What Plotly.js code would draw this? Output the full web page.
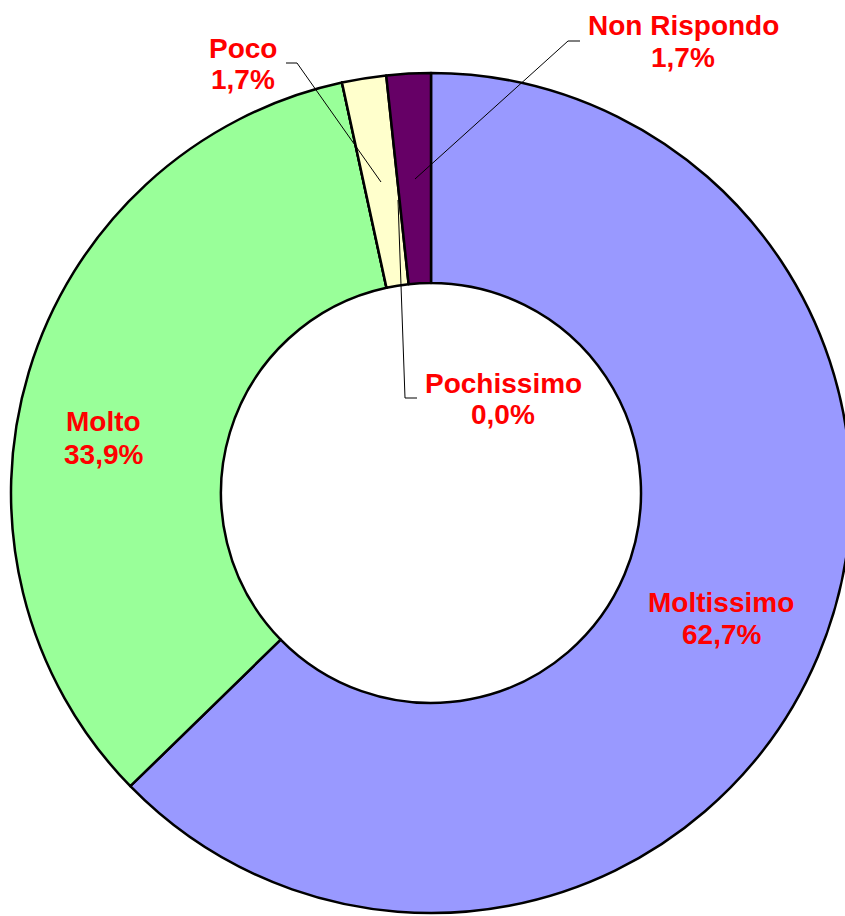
<!DOCTYPE html>
<html>
<head>
<meta charset="utf-8">
<script src="https://cdn.plot.ly/plotly-3.0.1.min.js"></script>
<style>
html, body { margin: 0; padding: 0; overflow: hidden; background: #ffffff; }
#chart { width: 900px; height: 916px; }
</style>
</head>
<body>
<div id="chart"></div>
<script>
// Data
const categories = ["Moltissimo", "Molto", "Pochissimo", "Poco", "Non Rispondo"];
const percentages = [62.7, 33.9, 0.0, 1.7, 1.7];
const percentLabels = ["62,7%", "33,9%", "0,0%", "1,7%", "1,7%"];
const sliceColors = ["#9999FF", "#99FF99", "#FFCC99", "#FFFFCC", "#660066"];

// Layout geometry (pixels)
const W = 900, H = 916;
const px = x => x / W;
const py = y => 1 - y / H;

// Label placement (pixel centres, baselines of the two lines)
const labelPos = {
  "Moltissimo":   {x: 721, b1: 612, b2: 644},
  "Molto":        {x: 103.5, b1: 431, b2: 464},
  "Pochissimo":   {x: 503, b1: 393, b2: 424},
  "Poco":         {x: 243, b1: 58, b2: 89},
  "Non Rispondo": {x: 683, b1: 35, b2: 67}
};

// Leader lines (pixel polylines)
const leaders = [
  [[580, 41], [568, 41], [415, 179]],
  [[286, 63], [297, 63], [381, 182]],
  [[417, 398], [405, 398], [398, 200]]
];

const labelFont = {family: "Liberation Sans, Arial, sans-serif", size: 28, color: "#FF0000", weight: "bold"};

const annotations = [];
categories.forEach((c, i) => {
  const p = labelPos[c];
  annotations.push({
    xref: "paper", yref: "paper", x: px(p.x), y: py(p.b1 - 10),
    xanchor: "center", yanchor: "middle", showarrow: false,
    text: "<b>" + c + "</b>", font: labelFont
  });
  annotations.push({
    xref: "paper", yref: "paper", x: px(p.x), y: py(p.b2 - 10),
    xanchor: "center", yanchor: "middle", showarrow: false,
    text: "<b>" + percentLabels[i] + "</b>", font: labelFont
  });
});

const shapes = leaders.map(pts => ({
  type: "path", xref: "paper", yref: "paper",
  path: pts.map((p, k) => (k === 0 ? "M" : "L") + px(p[0]) + "," + py(p[1])).join(" "),
  line: {color: "#000000", width: 1}
}));

const trace = {
  type: "pie",
  labels: categories,
  values: percentages,
  sort: false,
  direction: "clockwise",
  rotation: 0,
  hole: 0.5,
  textinfo: "none",
  hoverinfo: "skip",
  marker: {colors: sliceColors, line: {color: "#000000", width: 2.5}},
  domain: {x: [0, 862 / W], y: [1 - 913 / H, 1 - 73 / H]},
  showlegend: false
};

const layout = {
  width: W, height: H,
  margin: {l: 0, r: 0, t: 0, b: 0},
  paper_bgcolor: "#ffffff",
  plot_bgcolor: "#ffffff",
  showlegend: false,
  annotations: annotations,
  shapes: shapes
};

Plotly.newPlot("chart", [trace], layout, {displayModeBar: false, staticPlot: true});
</script>
</body>
</html>
